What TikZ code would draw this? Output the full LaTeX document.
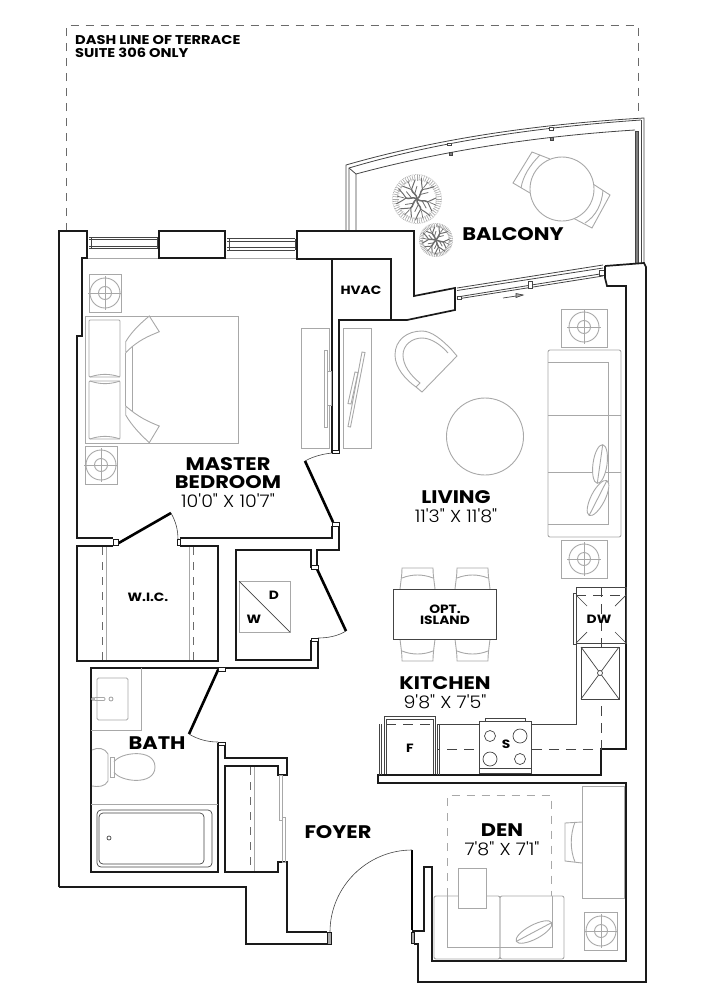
\documentclass[tikz,border=0pt]{standalone}
\usepackage{fontspec}
\setmainfont{Poppins}[FakeStretch=1.15]
\newfontfamily\lightlab{Poppins Light}[FakeStretch=1.1]
\usetikzlibrary{shapes.geometric}
\definecolor{fgray}{HTML}{A8A8A8}
\definecolor{wline}{HTML}{1A1A1A}
\definecolor{tline}{HTML}{444444}
\definecolor{dgray}{HTML}{6A6A6A}
\tikzset{
 wall/.style={draw=wline,line width=1.7pt,line join=miter},
 doorleaf/.style={draw=black,line width=2.6pt},
 swing/.style={draw=tline,line width=0.6pt},
 fur/.style={draw=fgray,line width=0.9pt},
 thinl/.style={draw=tline,line width=0.7pt},
 glass/.style={draw=tline,line width=0.8pt},
 dashl/.style={draw=dgray,line width=0.9pt,dash pattern=on 8pt off 7pt},
 dashk/.style={draw=tline,line width=0.8pt,dash pattern=on 10pt off 7pt},
 jamb/.style={draw=wline,line width=0.9pt,fill=white},
 rname/.style={inner sep=0pt,align=center,font=\fontsize{18.2}{18.2}\selectfont\bfseries},
 rsize/.style={inner sep=0pt,align=center,font=\fontsize{17.3}{17.3}\selectfont\lightlab},
 sname/.style={inner sep=0pt,align=center,font=\fontsize{12}{12}\selectfont\bfseries},
 dashlabel/.style={inner sep=0pt,anchor=west,font=\fontsize{12.7}{12.7}\selectfont\bfseries},
}
\newcommand{\nightst}[6]{%
 \draw[fur] (#1,#2) rectangle (#3,#4);
 \draw[fur] (#5,#6) circle (15) (#5,#6) circle (6.5);
 \draw[fur] (#5-17,#6) -- (#5+17,#6) (#5,#6-17) -- (#5,#6+17);
}
\newcommand{\treeplan}[3]{%
 \begin{scope}[shift={(#1,#2)},scale=#3]
  \draw[fgray,line width=0.5pt,dash pattern=on 1pt off 0.8pt] (0,0) circle (24.5);
  \foreach \a in {0,6,...,354}{\draw[fgray,line width=0.6pt] (\a:18.5) -- (\a:24);}
  \draw[fgray,line width=0.5pt,dash pattern=on 1pt off 1pt] (0,0) circle (20);
  \foreach \a/\b in {15/19,70/21,125/19,185/21,240/19,300/21}{
   \draw[gray!85!black,line width=1.5pt,line cap=round] (0,0) .. controls (\a+30:5) and (\a-10:8) .. (\a:11);
   \draw[gray!85!black,line width=1pt,line cap=round] (\a:11) .. controls (\a+14:14) .. (\a+24:\b);
   \draw[gray!85!black,line width=1pt,line cap=round] (\a:11) .. controls (\a-10:14) .. (\a-18:\b);
   \draw[gray!85!black,line width=0.8pt] (\a:5) -- (\a+30:13);
   \draw[gray!85!black,line width=0.7pt] (\a:13) -- (\a+3:20);
  }
 \end{scope}
}
\newcommand{\stoolup}[1]{%
 \draw[fur] (#1,589) .. controls (#1+1,580) and (#1+2,575) .. (#1+2,568) -- (#1+33,568) .. controls (#1+33,575) and (#1+34,580) .. (#1+35,589);
 \draw[fur] (#1+2,578) .. controls (#1+12,574) and (#1+23,574) .. (#1+33,578);
}
\newcommand{\stooldown}[1]{%
 \draw[fur] (#1,639) .. controls (#1+1,648) and (#1+2,653) .. (#1+2,661) -- (#1+33,661) .. controls (#1+33,653) and (#1+34,648) .. (#1+35,639);
 \draw[fur] (#1+2,651) .. controls (#1+12,655) and (#1+23,655) .. (#1+33,651);
}
\begin{document}
\begin{tikzpicture}[x=1pt,y=-1pt]
\useasboundingbox (0,0) rectangle (728,1004);
% ---------- terrace dash
\draw[dashl] (66.5,231) -- (66.5,25) -- (638,25) -- (638,112);
% ---------- balcony rail
\draw[glass] (346,231) -- (346,165) .. controls (440,138) and (540,124) .. (644,118) -- (644,264);
\draw[glass] (349,231) -- (349,168) .. controls (440,141) and (540,127) .. (641,120);
\draw[glass] (356,231) -- (356,174) .. controls (445,150) and (540,136) .. (635,130);
\draw[glass] (349,168) -- (356,174);
\draw[glass,fill=gray] (635,131) rectangle (638,263);
\draw[glass] (641,120) -- (641,264);
\draw[thinl,fill=white] (447,143) rectangle (451,145.5);
\draw[thinl,fill=gray] (449,152) rectangle (452,155.5);
\draw[thinl,fill=white] (549,127) rectangle (553,130);
\draw[thinl,fill=gray] (550,137) rectangle (553,140);
% ---------- trees, table, chairs
\treeplan{417}{199}{1}
\treeplan{436}{240}{0.68}
\draw[fur] (550,159) -- (532,152) -- (513,183) -- (530,193);
\draw[fur] (540,155) .. controls (530,165) and (523,176) .. (521,188);
\draw[fur] (593,184) -- (610,195) -- (592,228) -- (573,218);
\draw[fur] (603,190) .. controls (602,204) and (596,216) .. (585,223);
\draw[fur,fill=white] (562,189) circle (32);
% ---------- window glazing
\foreach \yy in {237,239.5,246,248.5}{\draw[glass] (89,\yy) -- (157,\yy);}
\draw[glass] (91,237) -- (91,248.5) (157,237) -- (157,248.5);
\foreach \yy in {238.5,241,247.5,250}{\draw[glass] (227,\yy) -- (295,\yy);}
\draw[glass] (229,238.5) -- (229,250) (295,238.5) -- (295,250);
\draw[fgray] (87,258) -- (159,258) (225,258) -- (297,258);
% ---------- sliding balcony door
\draw[glass] (457,288) -- (603,265);
\draw[glass] (457,290.5) -- (603,268);
\draw[glass] (457,297) -- (603,273.5);
\draw[glass] (457,299) -- (603,276);
\draw[thinl,fill=white] (528,281) rectangle (532,288);
\draw[thinl,fill=white] (599,270) rectangle (604,275);
\draw[thinl,fill=white] (457,296) rectangle (461,299);
\draw[thinl] (503,298) -- (523,295);
\draw[thinl,fill=fgray] (516,293.5) -- (523,295) -- (516,297.5) -- cycle;
% ---------- exterior and structural walls
\draw[wall] (59,887) -- (59,231) -- (87,231) -- (87,258) -- (82,258) -- (82,336) -- (77,336) -- (77,538) -- (113,538);
\draw[wall] (59,887) -- (246,887) -- (246,944) -- (328,944);
\draw[wall] (159,231) rectangle (225,258);
\draw[wall] (297,231) -- (414,231) -- (414,296) -- (455,288) -- (455,310) -- (407,320) -- (391,320) -- (391,259) -- (297,259) -- cycle;
\draw[wall] (332,259) -- (332,453);
\draw[wall] (339,453) -- (339,320) -- (391,320);
\draw[wall] (605,266) -- (644,263) -- (646,267) -- (646,982) -- (418,982) -- (418,944) -- (414,944);
\draw[wall] (605,266) -- (605,278) -- (607,286) -- (626,286) -- (626,749) -- (601,749) -- (601,775) -- (378,775) -- (378,783) -- (626,783) -- (626,961) -- (432,961) -- (432,867) -- (424,867) -- (424,931) -- (412,931);
\draw[wall] (180,538) -- (332,538) -- (332,526);
\draw[wall] (113,546) -- (77,546) -- (77,661) -- (218,661) -- (218,546) -- (180,546);
\draw[wall] (339,526) -- (339,550) -- (317,550) -- (317,568) (311,568) -- (311,550) -- (236,550) -- (236,660) -- (311,660) -- (311,640) (318,640) -- (318,668) -- (225,668) -- (225,670) (218,670) -- (218,668) -- (91,668) -- (91,872) -- (218,872) -- (218,743);
\draw[wall] (225,743) -- (225,758) -- (287,758) -- (287,775) -- (278,775) -- (278,766) -- (225,766) -- (225,872) -- (278,872) -- (278,862) -- (287,862) -- (287,932) -- (327,932);
% ---------- door leaves, swings, jambs
\draw[doorleaf] (117,544) -- (171,513);
\draw[swing] (171,513) .. controls (176,522) and (178,530) .. (178,540);
\draw[jamb] (113,539) rectangle (118,545) (177,539) rectangle (180,545);
\draw[doorleaf] (333,522) -- (305,461);
\draw[swing] (305,461) .. controls (314,456) and (323,454) .. (332,453);
\draw[jamb] (332,450) rectangle (339,453.5) (332,522) rectangle (339,526);
\draw[doorleaf] (317,569) -- (346,631);
\draw[swing] (346,631) .. controls (338,636) and (328,638) .. (318,638);
\draw[jamb] (311,565.5) rectangle (318,569) (311,638) rectangle (318,641);
\draw[doorleaf] (218,670) -- (189,734);
\draw[swing] (189,734) .. controls (197,739) and (207,742) .. (218,742);
\draw[jamb] (218,667.5) rectangle (225,671) (218,742) rectangle (225,745);
\draw[doorleaf] (412,850) -- (412,930);
\draw[swing] (412,850) .. controls (367,850) and (330,887) .. (330,932);
\draw[jamb,fill=fgray] (327,932) rectangle (331,944);
\draw[jamb,fill=fgray] (411,932) rectangle (414,943);
% ---------- bedroom furniture
\nightst{89}{274}{121}{312}{105}{293}
\nightst{85}{446}{117}{484}{101}{465}
\draw[fur] (85,316) rectangle (238,443);
\draw[fur,rounded corners=1pt] (89,320) rectangle (120,377);
\draw[fur,rounded corners=1pt] (89,381) rectangle (120,439);
\draw[fur] (90,377) .. controls (100,373.5) and (110,373.5) .. (120,377);
\draw[fur] (90,381) .. controls (100,384.5) and (110,384.5) .. (120,381);
\draw[fur] (90,439) .. controls (100,435.5) and (110,435.5) .. (120,439);
\draw[fur] (125.7,352.7) -- (125.7,341.7) .. controls (132,331) and (141,323) .. (149.3,316) -- (159.3,331.7) .. controls (149,336) and (138,340) .. (125.7,352.7);
\draw[fur] (125.7,406) -- (125.7,415) .. controls (132,426) and (141,435) .. (149.3,442.7) -- (159.3,426) .. controls (149,422) and (138,417) .. (125.7,406);
\draw[fur] (125.7,352.7) -- (125.7,406) (132.7,347) -- (132.7,412);
% closets
\draw[fur] (301,328) rectangle (329,448);
\draw[fur,fill=white] (324,350) rectangle (327.5,427);
\draw[fur,fill=white] (327,371) rectangle (331,405);
\draw[fur] (343,328) rectangle (371,448);
\draw[fur] (362,352) -- (365,352.5) -- (350.5,427) -- (348,426.5) -- cycle;
\draw[fur] (355,372) -- (358,372.5) -- (351,404) -- (348,403.5) -- cycle;
% ---------- living furniture
\draw[fur] (457,356) -- (422,392) -- (416,387) .. controls (406,380) and (395,368) .. (395,355) .. controls (395,340) and (407,331) .. (422,331) .. controls (432,331) and (442,340) .. (451,349) -- cycle;
\draw[fur] (416,387) -- (420,383) .. controls (410,375) and (403,365) .. (403,355) .. controls (403,345) and (412,338) .. (422,338) .. controls (432,338) and (442,346) .. (448,353);
\draw[fur] (485,436.5) circle (38.5);
\nightst{561}{309}{607}{347}{584}{327}
\nightst{561}{540}{607}{578}{584}{559}
\draw[fur,rounded corners=2pt] (548,350) rectangle (621,537);
\draw[fur] (548,362) -- (608,362) -- (608,524) -- (548,524);
\draw[fur] (548,415) -- (621,415) (548,472) -- (621,472);
\begin{scope}[shift={(600,464)},rotate=82]
 \draw[fur,fill=white] (0,0) ellipse [x radius=19.5,y radius=7];
 \draw[fur] (-19,0) -- (19,0);
\end{scope}
\begin{scope}[shift={(598,498)},rotate=63]
 \draw[fur,fill=white] (0,0) ellipse [x radius=19.5,y radius=7];
 \draw[fur] (-19,0) -- (19,0);
\end{scope}
% ---------- island
\stoolup{400}\stoolup{455}\stooldown{400}\stooldown{455}
\draw[tline,line width=0.9pt,fill=white] (393,589) rectangle (496,639);
% ---------- kitchen counters
\draw[thinl,line width=0.9pt] (576,587) rectangle (626,643);
\draw[thinl] (573,593) rectangle (576,644);
\draw[dashk] (576,595) -- (626,595);
\draw[thinl] (576,595) -- (587,606) (626,595) -- (615,606) (576,643) -- (587,632) (626,643) -- (615,632);
\draw[dashk] (601,587) -- (601,749) -- (438,749);
\draw[thinl,line width=0.9pt] (576,643) -- (576,724) -- (438,724);
\draw[thinl,line width=0.9pt,fill=white] (581,647) rectangle (619,699);
\draw[thinl] (581,647) -- (619,699) (619,647) -- (581,699);
\draw[thinl,fill=white] (600,673) circle (2.5);
\draw[thinl,line width=0.9pt,fill=white] (479,721) rectangle (531,773);
\draw[thinl,line width=0.9pt,fill=white] (485,718) rectangle (525,721);
\draw[thinl] (479,768) -- (531,768);
\draw[thinl] (490,736) circle (5.5) (520,736) circle (7) (490,759) circle (7) (520,759) circle (5.5);
\draw[thinl,line width=0.9pt] (384,774) -- (384,716.5) -- (435,716.5) -- (435,774);
\draw[thinl] (386,774) -- (386,719) -- (433,719) -- (433,774);
\draw[dashk] (386,724) -- (433,724);
\draw[thinl] (379,724) -- (379,775) (381,724) -- (381,775) (437,724) -- (437,775) (439,724) -- (439,775);
% ---------- bath fixtures
\draw[fur] (91,730) -- (141,730) -- (141,668);
\draw[fur,rounded corners=1.5pt] (97,678) rectangle (128,720);
\draw[fur] (93,699) circle (1.5);
\draw[fur,rounded corners=1pt] (94,697.5) rectangle (105,700.5);
\draw[fur] (111,699) circle (2);
\draw[fur] (92,750) .. controls (98,747) and (105,748) .. (108,754) -- (108,781) .. controls (105,787) and (98,787) .. (92,786);
\draw[fur] (110,757) rectangle (114,777);
\draw[fur] (114,762) .. controls (120,752) and (155,748) .. (155,767) .. controls (155,786) and (120,782) .. (114,772);
\draw[fur] (91,804) -- (218,804);
\draw[tline,line width=0.7pt,rounded corners=4pt] (97,810) rectangle (212,867);
\draw[tline,line width=0.7pt,rounded corners=4pt] (99,813) rectangle (204,864);
\draw[tline,line width=0.7pt] (109,838) circle (2);
% ---------- closets wic & foyer
\draw[dashl] (102,547) -- (102,660);
\draw[fur] (106,547) -- (106,660) (189,547) -- (189,660);
\draw[dashl] (193,547) -- (193,660);
\draw[dashl] (250,767) -- (250,871);
\draw[fur] (254,767) -- (254,871);
\draw[fur] (279,775) rectangle (282,820);
\draw[fur] (282,817) rectangle (285,862);
% ---------- laundry
\draw[fur] (239,581) rectangle (290,632);
\draw[thinl] (239,581) -- (290,632);
% ---------- den furniture
\draw[fur] (582,786) rectangle (624,898);
\draw[fur] (582,822) -- (565,823) -- (565,861) -- (582,863);
\draw[fur] (575,822) .. controls (570,835) and (570,850) .. (575,862);
\draw[dashl,draw=fgray] (447.5,896) -- (447.5,795) -- (551,795) -- (551,896);
\draw[fur,rounded corners=2pt] (434,896) rectangle (500,959);
\draw[fur,rounded corners=2pt] (500,896) rectangle (564,959);
\draw[fur] (447,896) -- (447,947) -- (552,947) -- (552,896);
\draw[fur,fill=white] (458,868) rectangle (486,908);
\begin{scope}[shift={(534,932)},rotate=28]
 \draw[fur,fill=white] (0,0) ellipse [x radius=20,y radius=7];
 \draw[fur] (-19.5,0) -- (19.5,0);
\end{scope}
\nightst{584}{912}{617}{950}{601}{931}
% ---------- labels
\node[dashlabel] (lblA) at (75,40) {DASH LINE OF TERRACE};
\node[dashlabel] (lblB) at (75,53) {SUITE 306 ONLY};
\node[rname] (balc) at (513,234) {BALCONY};
\node[sname] (hvac) at (361,290) {HVAC};
\node[rname] (mb1) at (228,464) {MASTER};
\node[rname] (mb2) at (228,482) {BEDROOM};
\node[rsize] (mb3) at (228,501) {10'0" X 10'7"};
\node[rname] (liv1) at (456,497) {LIVING};
\node[rsize] (liv2) at (456,516) {11'3" X 11'8"};
\node[sname] (wic) at (148,597) {W.I.C.};
\node[sname] (dry) at (274,595) {D};
\node[sname] (wsh) at (254,619) {W};
\node[sname] (opt1) at (445,609) {OPT.};
\node[sname] (opt2) at (445,620.5) {ISLAND};
\node[sname] (dw) at (599,619) {DW};
\node[rname] (kit1) at (445,683) {KITCHEN};
\node[rsize] (kit2) at (445,702) {9'8" X 7'5"};
\node[sname] (frg) at (410,748) {F};
\node[sname] (stv) at (506,744) {S};
\node[rname] (bath) at (157,743) {BATH};
\node[rname] (foy) at (338,832) {FOYER};
\node[rname] (den1) at (502,830) {DEN};
\node[rsize] (den2) at (502,849) {7'8" X 7'1"};
\end{tikzpicture}
\end{document}
